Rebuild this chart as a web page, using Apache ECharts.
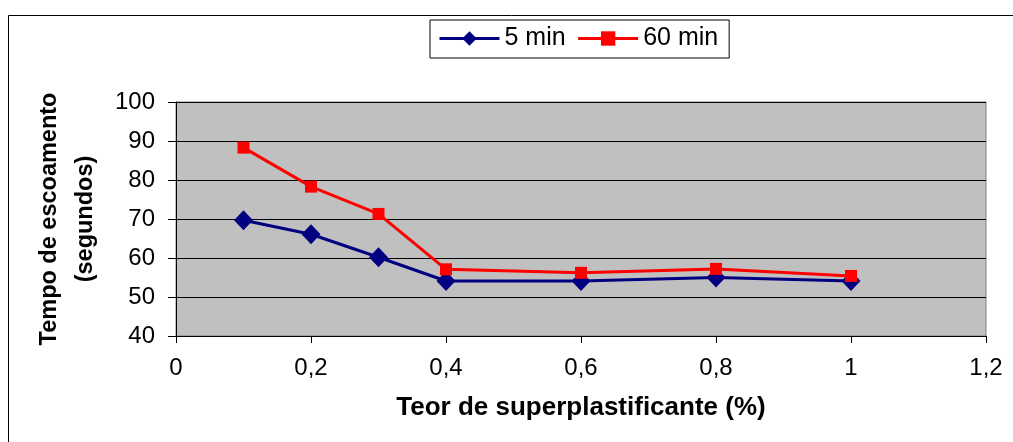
<!DOCTYPE html>
<html><head><meta charset="utf-8">
<script src="https://cdn.jsdelivr.net/npm/echarts@6/dist/echarts.min.js"></script>
<style>html,body{margin:0;padding:0;background:#fff}#c{width:1013px;height:442px}</style>
</head><body><div id="c"></div>
<script>
const xValues = [0.1, 0.2, 0.3, 0.4, 0.6, 0.8, 1.0];
const series5min = [69.7, 66.1, 60.2, 54.1, 54.1, 55.0, 54.1];
const series60min = [88.3, 78.3, 71.3, 57.1, 56.2, 57.2, 55.4];
const seriesNames = ['5 min', '60 min'];
const xTitle = 'Teor de superplastificante (%)';
const yTitle = 'Tempo de escoamento\n(segundos)';

const font = 'Liberation Sans, Arial, sans-serif';
const chart = echarts.init(document.getElementById('c'));
chart.setOption({
  animation: false,
  backgroundColor: '#fff',
  graphic: [{
    type: 'rect', shape: {x: 8.5, y: 15.5, width: 1010, height: 440},
    style: {fill: 'none', stroke: '#000', lineWidth: 1}, silent: true, z: -1
  }],
  legend: {
    top: 20, left: 430,
    padding: [6, 11, 7, 8],
    borderColor: '#000', borderWidth: 1,
    itemWidth: 60, itemHeight: 18, itemGap: 11,
    lineStyle: {width: 3},
    textStyle: {fontFamily: font, fontSize: 25, color: '#000'},
    data: seriesNames
  },
  grid: {left: 176, right: 27, top: 102, bottom: 106, show: true, backgroundColor: '#C0C0C0', borderColor: '#808080', borderWidth: 1},
  xAxis: {
    type: 'value', min: 0, max: 1.2, interval: 0.2,
    name: xTitle, nameLocation: 'middle', nameGap: 59,
    nameTextStyle: {fontFamily: font, fontSize: 26, fontWeight: 'bold', color: '#000'},
    axisLine: {onZero: false, lineStyle: {color: '#000', width: 1}},
    axisTick: {show: true, length: 7, lineStyle: {color: '#000'}},
    axisLabel: {fontFamily: font, fontSize: 24, color: '#000', margin: 20,
      formatter: v => String(Math.round(v*10)/10).replace('.', ',')},
    splitLine: {show: false}
  },
  yAxis: {
    type: 'value', min: 40, max: 100, interval: 10,
    name: yTitle, nameLocation: 'middle', nameGap: 72, nameRotate: 90,
    nameTextStyle: {fontFamily: font, fontSize: 23.5, fontWeight: 'bold', color: '#000', lineHeight: 36},
    axisLine: {show: true, lineStyle: {color: '#000', width: 1}},
    axisTick: {show: true, length: 8, lineStyle: {color: '#000'}},
    axisLabel: {fontFamily: font, fontSize: 24, color: '#000', margin: 21},
    splitLine: {show: true, lineStyle: {color: '#000', width: 1}}
  },
  series: [
    {name: seriesNames[0], type: 'line', data: xValues.map((x,i)=>[x, series5min[i]]),
     symbol: 'diamond', symbolSize: [19, 20], color: '#000080',
     lineStyle: {width: 3, color: '#000080'}, itemStyle: {color: '#000080'}},
    {name: seriesNames[1], type: 'line', data: xValues.map((x,i)=>[x, series60min[i]]),
     symbol: 'rect', symbolSize: 12, color: '#FF0000',
     lineStyle: {width: 3, color: '#FF0000'}, itemStyle: {color: '#FF0000'}}
  ]
});
</script></body></html>
